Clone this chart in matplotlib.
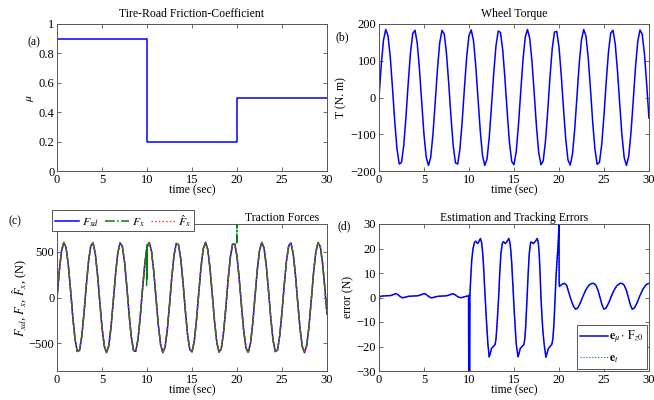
import matplotlib.pyplot as plt
import numpy as np

plt.rcParams['font.family'] = 'serif'
plt.rcParams['font.serif'] = ['Liberation Serif', 'DejaVu Serif']
plt.rcParams['mathtext.fontset'] = 'stix'
plt.rcParams['font.size'] = 8.5

# (a) friction coefficient, step changes
mu_t = [0, 10, 20, 30]
mu_v = [0.9, 0.2, 0.5, 0.5]

# sample times for the wave signals (every 0.25 s)
t = np.arange(0, 30.001, 0.25)

# (b) wheel torque read every 0.25 s
torque = [0, 89, 156, 185, 168, 111, 26, -65, -140, -181, -177, -131, -52, 40, 122, 174, 183, 148, 76, -14,
          -101, -163, -185, -162, -99, -12, 78, 149, 183, 173, 120, 38, -53, -132, -178, -181, -139, -63, 28, 112,
          169, 184, 155, 87, -2, -90, -157, -185, -168, -109, -24, 66, 141, 181, 177, 129, 50, -41, -123, -174,
          -183, -147, -75, 16, 102, 164, 185, 161, 98, 11, -79, -150, -183, -172, -119, -37, 55, 133, 178, 180,
          138, 62, -29, -113, -170, -184, -154, -86, 3, 92, 157, 185, 167, 108, 23, -68, -142, -182, -176, -128,
          -49, 43, 124, 175, 183, 146, 73, -17, -103, -164, -185, -160, -96, -9, 81, 151, 184, 172, 118, 35, -56]

# (c) traction force read every 0.25 s (the three curves lie on top of each other)
force = [0, 288, 505, 599, 546, 359, 85, -210, -454, -587, -575, -423, -168, 129, 394, 563, 594, 479, 247, -45,
         -326, -528, -600, -525, -322, -40, 252, 482, 594, 561, 390, 124, -173, -427, -577, -586, -451, -206, 90, 363,
         548, 598, 502, 283, -5, -292, -508, -599, -543, -355, -79, 215, 458, 588, 574, 420, 163, -134, -398, -565,
         -593, -476, -242, 50, 331, 530, 600, 523, 317, 34, -257, -486, -595, -559, -386, -119, 178, 431, 578, 584,
         447, 201, -95, -368, -550, -597, -499, -278, 11, 297, 511, 599, 541, 351, 74, -220, -461, -589, -572, -416,
         -157, 139, 402, 566, 592, 473, 238, -56, -335, -533, -600, -520, -313, -29, 262, 489, 596, 557, 382, 114, -183]
# short transients of F_x and F_x hat
fx_g1_t = [9.93, 9.95, 9.97, 9.99, 10.01]
fx_g1_v = [520, 130, 560, 200, 580]
fx_g2_t = [19.97, 19.99, 20.01]
fx_g2_v = [590, 900, 600]
fxh_g_t = [0.0, 0.03, 0.08]
fxh_g_v = [760, 700, 150]

# (d) errors
err_t = [0.0, 0.05, 0.4, 0.9, 1.3, 1.6, 1.85, 2.1, 2.35, 2.6, 2.9, 3.3, 3.8, 4.3, 4.6, 4.85, 5.05, 5.3, 5.6, 5.85,
         6.2, 6.6, 7.1, 7.5, 7.8, 8.05, 8.25, 8.5, 8.8, 9.1, 9.4, 9.7, 9.95,
         9.98, 10.0, 10.02, 10.04, 10.06, 10.08, 10.11,
         10.2, 10.3, 10.45, 10.6, 10.75, 10.95, 11.1, 11.27, 11.4, 11.5, 11.6, 11.7, 11.8, 11.9, 12.0, 12.1, 12.25,
         12.35, 12.5, 12.7, 12.9, 13.0, 13.1, 13.2, 13.32, 13.42, 13.55, 13.7, 13.82, 14.05, 14.25, 14.43, 14.55,
         14.65, 14.75, 14.85, 14.95, 15.05, 15.15, 15.25, 15.45, 15.55, 15.7, 15.9, 16.1, 16.2, 16.3, 16.38, 16.48,
         16.58, 16.7, 16.85, 17.0, 17.15, 17.4, 17.58, 17.7, 17.8, 17.9, 18.0, 18.1, 18.2, 18.35, 18.55, 18.65,
         18.8, 19.0, 19.2, 19.32, 19.42, 19.5, 19.58, 19.68, 19.78, 19.88, 19.97, 20.0, 20.02, 20.05,
         20.2, 20.4, 20.6, 20.85, 21.05, 21.3, 21.6, 21.85, 22.1, 22.4, 22.7, 23.0, 23.3, 23.6, 23.85, 24.1, 24.35,
         24.6, 24.8, 25.0, 25.25, 25.55, 25.85, 26.15, 26.45, 26.75, 27.0, 27.25, 27.5, 27.75, 27.95, 28.15, 28.4,
         28.7, 29.0, 29.3, 29.6, 29.85, 30.0]
err_v = [-15, 0.4, 0.6, 0.7, 0.8, 1.2, 1.6, 1.2, 0.4, -0.1, 0.1, 0.5, 0.6, 0.7, 1.0, 1.4, 1.6, 1.1, 0.2, -0.2,
         0.2, 0.5, 0.6, 0.7, 1.0, 1.4, 1.5, 1.0, 0.2, -0.1, 0.2, 0.5, 0.6,
         -35, 1.0, -34, -2, -30, -6, 2,
         8, 15, 20, 22.4, 23.0, 22.0, 22.8, 24.1, 22.5, 19, 14, 7, 0, -7, -13, -19, -24.2,
         -23, -20.8, -20, -19.2, -17, -12, -6, 2, 10, 18, 22, 22.8, 22.0, 23, 24.1, 22.5,
         19, 14, 7, 0, -7, -13, -19, -24.2, -23, -20.8, -20, -19.2, -17, -12, -6, 2,
         10, 18, 22.5, 22.6, 22.0, 23, 24.1, 22.5, 18, 10, 0, -7, -13, -19, -24.4, -23,
         -21, -20, -19.2, -17, -12, -6, 1, 9, 15, 20, 27, 40, 6, 4.5,
         5.0, 5.5, 5.8, 5.0, 2.5, -0.5, -3.5, -4.8, -4.2, -2, 0.8, 3.2, 4.9, 5.7, 5.8, 5.0, 2.8,
         -0.5, -3.2, -4.8, -4.2, -2, 0.8, 3.2, 4.9, 5.7, 5.8, 5.0, 2.8, -0.5, -3.2, -4.8, -4.2,
         -2, 0.8, 3.2, 4.9, 5.6, 5.7]

blue = '#0000ff'
green = '#008000'
red = '#ff3030'


def style(ax, ylim, yticks, yticklabels=None):
    ax.set_xlim(0, 30)
    ax.set_xticks(range(0, 31, 5))
    ax.set_ylim(ylim)
    ax.set_yticks(yticks)
    if yticklabels:
        ax.set_yticklabels(yticklabels)
    ax.tick_params(direction='in', top=True, right=True, length=3, width=0.6,
                   color='#555555', pad=2, labelsize=9)
    for s in ax.spines.values():
        s.set_color('#555555')
        s.set_linewidth(0.7)
    ax.set_xlabel('time (sec)', labelpad=-1)


fig = plt.figure(figsize=(6.54, 4.0), dpi=100)
ax1 = fig.add_axes([0.0872, 0.5725, 0.4128, 0.3675])
ax2 = fig.add_axes([0.5795, 0.5725, 0.4128, 0.3675])
ax3 = fig.add_axes([0.0872, 0.0725, 0.4128, 0.3675])
ax4 = fig.add_axes([0.5795, 0.0725, 0.4128, 0.3675])

# (a)
ax1.plot(mu_t, mu_v, color=blue, lw=1.1, drawstyle='steps-post')
style(ax1, (0, 1), [0, 0.2, 0.4, 0.6, 0.8, 1], ['0', '0.2', '0.4', '0.6', '0.8', '1'])
ax1.set_ylabel(r'$\mu$', labelpad=2)
ax1.set_title('Tire-Road Friction-Coefficient', fontsize=8.5, pad=5)

# (b)
ax2.plot(t, torque, color=blue, lw=1.1)
style(ax2, (-200, 200), [-200, -100, 0, 100, 200])
ax2.set_ylabel('T (N. m)', labelpad=2)
ax2.set_title('Wheel Torque', fontsize=8.5, pad=5)

# (c)
ax3.plot(t, force, color=blue, lw=1.1, label=r'$F_{xd}$')
ax3.plot(t, force, color=green, lw=1.1, ls='-.', label=r'$F_{x}$')
ax3.plot(t, force, color=red, lw=1.0, ls=':', label=r'$\hat{F}_{x}$')
ax3.plot(fx_g1_t, fx_g1_v, color=green, lw=0.9)
ax3.plot(fx_g2_t, fx_g2_v, color=green, lw=1.1, ls='-.')
ax3.plot(fxh_g_t, fxh_g_v, color=red, lw=1.0, ls=':')
style(ax3, (-800, 800), [-500, 0, 500])
ax3.set_ylabel(r'$F_{xd}$, $F_{x}$, $\hat{F}_{x}$, (N)', labelpad=0, fontsize=9)
ax3.set_title('Traction Forces', fontsize=8.5, loc='right', pad=2, x=0.97)
leg3 = ax3.legend(loc='upper left', bbox_to_anchor=(0.0795, 0.476), bbox_transform=fig.transFigure,
                  ncol=3, frameon=True, fancybox=False, edgecolor='#555555', framealpha=1,
                  handlelength=2.0, handletextpad=0.3, columnspacing=0.5, borderpad=0.25,
                  borderaxespad=0, fontsize=8.5)
leg3.get_frame().set_linewidth(0.7)

# (d)
ax4.plot(err_t, err_v, color=green, lw=0.8, ls=':', label=r'$\mathbf{e}_{t}$')
ax4.plot(err_t, err_v, color=blue, lw=1.1, label=r'$\mathbf{e}_{\mu}\cdot\,\mathrm{F}_{z0}$')
style(ax4, (-30, 30), [-30, -20, -10, 0, 10, 20, 30])
ax4.set_ylabel('error (N)', labelpad=2)
ax4.set_title('Estimation and Tracking Errors', fontsize=8.5, pad=2)
h, l = ax4.get_legend_handles_labels()
leg4 = ax4.legend(h[::-1], l[::-1], loc='lower right', frameon=True, fancybox=False, edgecolor='#555555',
                  framealpha=1, handlelength=2.3, handletextpad=0.1, borderpad=0.3, borderaxespad=0.2,
                  labelspacing=0.6, fontsize=8.5)
leg4.get_frame().set_linewidth(0.7)

# panel letters
fig.text(0.052, 0.895, '(a)', ha='center', va='center', fontsize=8.5)
fig.text(0.524, 0.908, '(b)', ha='center', va='center', fontsize=8.5)
fig.text(0.023, 0.448, '(c)', ha='center', va='center', fontsize=8.5)
fig.text(0.526, 0.435, '(d)', ha='center', va='center', fontsize=8.5)

fig.savefig('out.png', dpi=100)
